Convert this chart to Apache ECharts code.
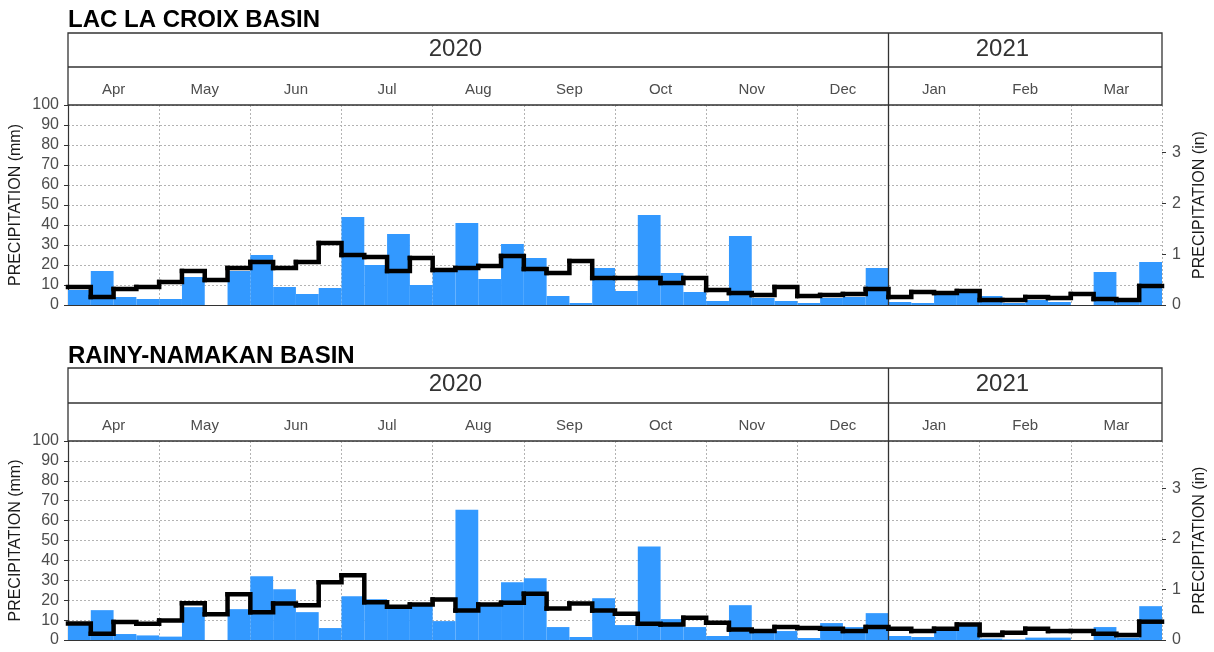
<!DOCTYPE html>
<html><head><meta charset="utf-8">
<script src="https://cdn.jsdelivr.net/npm/echarts@6/dist/echarts.min.js"></script>
<style>html,body{margin:0;padding:0;background:#fff}#c{width:1214px;height:652px}</style>
</head><body><div id="c"></div>
<script>
// ---- data ----
const months = ['Apr','May','Jun','Jul','Aug','Sep','Oct','Nov','Dec','Jan','Feb','Mar'];
const years = ['2020','2021'];
const weeks = [];
months.forEach(m => { for (let k = 1; k <= 4; k++) weeks.push(m + ' W' + k); });
const inchTicks = [0,1,2,3];
const titles = ['LAC LA CROIX BASIN', 'RAINY-NAMAKAN BASIN'];

const lacPrecip = [7.5,17,4,3, 3,14,0,17, 25,9,5.5,8.5, 44,20,35.5,10,
                   17,41,13,30.5, 23.5,4.5,1,18.5, 7,45,16,6.5, 2,34.5,3.5,2,
                   1,3.5,4,18.5, 1.5,1,5,6.5, 4.5,1,2.5,1.5, 0,16.5,3,21.5];
const lacNormal = [9,4,8,9, 11.5,17,12.5,18.5, 21.5,18.5,21.5,31, 25,24,17,23.5,
                   17.5,18.5,19.5,24.5, 18,16,22,13.5, 13.5,13.5,11,13.5, 7.5,6,5,9,
                   4.5,5,5.5,8, 4,6.5,6,7, 2.5,2.5,4,3.5, 5.5,3,2.5,9.5];
const rainyPrecip = [7.5,15,3,2.3, 1.7,16.5,0,15.5, 32,25.5,14,6, 22,20.5,17,17.5,
                     9.5,65.5,17.5,29, 31,6.5,1.5,21, 7.5,47,10.5,6.5, 2,17.5,4,4.5,
                     1,8.5,6.5,13.5, 2,1.5,5,8.5, 0.7,0.3,1.2,1.2, 0,6.5,1.2,17];
const rainyNormal = [8.3,3.2,9,8.2, 9.8,18.5,13,23, 14,18.3,17.5,29, 32.5,19,16.7,17.8,
                     20.3,14.8,17.8,18.7, 23.3,15.8,18.3,14.8, 13.2,8.2,7.8,11.2, 8.7,5.3,4.5,6.5,
                     6,5.7,4.5,6.5, 5.7,4.5,5.7,7.8, 2.5,3.7,5.7,4.5, 4.5,3.2,2.5,9.2];
const MM_PER_IN = 25.4;

// ---- layout ----
const FF = '"Liberation Sans", Arial, Helvetica, sans-serif';
const L = 68, W = 1094;
const panels = [
  {titleY: 20, stripTop: 33, stripMid: 67, plotTop: 105, plotH: 200, precip: lacPrecip, normal: lacNormal},
  {titleY: 356, stripTop: 368, stripMid: 403, plotTop: 441, plotH: 199, precip: rainyPrecip, normal: rainyNormal}
];
const yearSplitWeek = 36;
const yearLabelWeek = [17, 41];
const LINE_W = 4.5;

const grids = [], xAxes = [], yAxes = [], series = [], graphics = [];
const gridLine = {type: [2, 2], color: '#b3b3b3', width: 1};

function stepItem(params, api) {
  const x0 = api.value(0), y = api.value(1), yn = api.value(2);
  const pts = [api.coord([x0, y]), api.coord([x0 + 1, y])];
  if (yn !== null && yn !== undefined && !isNaN(yn)) pts.push(api.coord([x0 + 1, yn]));
  return {type: 'polyline', shape: {points: pts},
    style: {stroke: '#000', lineWidth: LINE_W, fill: null, lineJoin: 'miter', lineCap: 'square'}};
}

panels.forEach((p, i) => {
  grids.push({left: L, top: p.plotTop, width: W, height: p.plotH, containLabel: false, outerBoundsMode: 'none'});
  xAxes.push({gridIndex: i, type: 'category', data: weeks, boundaryGap: true,
    axisLine: {show: true, lineStyle: {color: '#333', width: 1.2}},
    axisTick: {show: false}, axisLabel: {show: false}, splitLine: {show: false}});
  xAxes.push({gridIndex: i, type: 'value', min: 0, max: weeks.length, show: false});
  xAxes.push({gridIndex: i, type: 'category', data: months, position: 'top', boundaryGap: true,
    axisLine: {show: false}, axisTick: {show: false},
    axisLabel: {margin: 8, fontSize: 15, color: '#4d4d4d', fontFamily: FF},
    splitLine: {show: true, interval: 0, lineStyle: gridLine}});
  yAxes.push({gridIndex: i, type: 'value', min: 0, max: 100, interval: 10, position: 'left',
    axisLine: {show: true, lineStyle: {color: '#333', width: 1.2}},
    axisTick: {show: true, length: 4, lineStyle: {color: '#333'}},
    axisLabel: {margin: 9, fontSize: 16, color: '#4d4d4d', fontFamily: FF},
    splitLine: {show: true, lineStyle: gridLine},
    name: 'PRECIPITATION (mm)', nameLocation: 'middle', nameGap: 44, nameMoveOverlap: false,
    nameTextStyle: {fontSize: 16, color: '#1a1a1a', fontFamily: FF}});
  yAxes.push({gridIndex: i, type: 'value', min: 0, max: 100 / MM_PER_IN, position: 'right',
    axisLine: {show: false},
    axisTick: {show: true, length: 4, lineStyle: {color: '#333'}, customValues: inchTicks},
    axisLabel: {margin: 10, fontSize: 16, color: '#4d4d4d', fontFamily: FF, customValues: inchTicks},
    splitLine: {show: false},
    name: 'PRECIPITATION (in)', nameLocation: 'middle', nameGap: 28,
    nameTextStyle: {fontSize: 16, color: '#1a1a1a', fontFamily: FF}});

  series.push({type: 'bar', xAxisIndex: 3 * i, yAxisIndex: 2 * i, data: p.precip,
    barCategoryGap: '0%', itemStyle: {color: '#3399ff'}, z: 2, silent: true});
  const stepData = p.normal.map((v, k) => [k, v, k + 1 < p.normal.length ? p.normal[k + 1] : null]);
  series.push({type: 'custom', xAxisIndex: 3 * i + 1, yAxisIndex: 2 * i, data: stepData,
    encode: {x: 0, y: 1}, renderItem: stepItem, z: 4, silent: true, clip: false});

  const splitX = L + W * yearSplitWeek / weeks.length;
  graphics.push({type: 'text', x: L, y: p.titleY, z: 10,
    style: {text: titles[i], fontSize: 24, fontWeight: 'bold', fontFamily: FF, fill: '#000', verticalAlign: 'middle', align: 'left'}});
  graphics.push({type: 'rect', z: 10, shape: {x: L, y: p.stripTop, width: W, height: p.plotTop - p.stripTop},
    style: {fill: 'none', stroke: '#333', lineWidth: 1.3}});
  graphics.push({type: 'line', z: 10, shape: {x1: L, y1: p.stripMid, x2: L + W, y2: p.stripMid},
    style: {stroke: '#333', lineWidth: 1.3}});
  graphics.push({type: 'line', z: 3, shape: {x1: splitX, y1: p.stripTop, x2: splitX, y2: p.plotTop + p.plotH},
    style: {stroke: '#333', lineWidth: 1.3}});
  years.forEach((yr, k) => {
    graphics.push({type: 'text', z: 10, x: L + W * yearLabelWeek[k] / weeks.length, y: (p.stripTop + p.stripMid) / 2 - 1,
      style: {text: yr, fontSize: 24, fontFamily: FF, fill: '#333', align: 'center', verticalAlign: 'middle'}});
  });
});

const chart = echarts.init(document.getElementById('c'), null, {renderer: 'canvas'});
chart.setOption({
  animation: false,
  backgroundColor: '#fff',
  grid: grids, xAxis: xAxes, yAxis: yAxes, series: series, graphic: graphics
});
</script></body></html>
